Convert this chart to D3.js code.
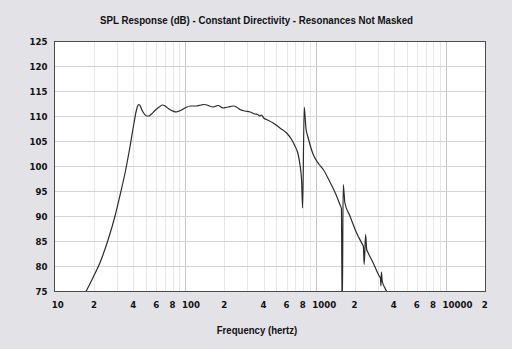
<!DOCTYPE html>
<html>
<head>
<meta charset="utf-8">
<script src="https://cdn.jsdelivr.net/npm/d3@7"></script>
<style>
  html, body { margin: 0; padding: 0; background: #e3e2e7; }
  svg { display: block; }
</style>
</head>
<body>
<svg id="chart" width="512" height="349"></svg>
<script>
// Frequency response samples (Hz, dB SPL)
const freqHz = [17.3, 19.6, 22.1, 25.6, 28.9, 31.6, 34.5, 37.6, 40.4, 42.2, 43.3, 44.1, 45.2, 46.3,
  48.5, 50.5, 52.5, 55, 58.5, 63, 67, 70, 74.1, 80, 84.8, 92, 99.5, 110, 122, 132, 139, 147,
  153, 164, 172, 179, 188, 196, 205, 214, 234, 250, 263, 287, 314, 343, 360, 374, 385, 400,
  421, 473, 533, 600, 655, 695, 736, 759, 782, 796, 819, 844, 879, 960, 1068, 1146, 1290,
  1451, 1538, 1580, 1603, 1632, 1681, 1837, 2068, 2260, 2330, 2364, 2424, 2470, 2538, 2773,
  3083, 3150, 3178, 3205, 3250, 3410, 3550];
const splDb = [75.0, 77.8, 80.7, 85.4, 90.1, 94.3, 98.7, 103.9, 108.7, 111.3, 112.2, 112.4, 112.1, 111.4,
  110.5, 110.1, 110.1, 110.5, 111.2, 111.9, 112.3, 112.1, 111.6, 111.1, 110.9, 111.2, 111.7, 112.1, 112.1, 112.3, 112.4, 112.3,
  112.1, 111.9, 112.1, 112.2, 111.9, 111.7, 111.8, 111.9, 112.1, 111.8, 111.4, 111.1, 110.9, 110.5, 110.4, 110.1, 110.3, 109.7,
  109.4, 108.7, 107.7, 106.7, 105.4, 104.1, 102.4, 100.4, 97.1, 91.7, 111.9, 107.7, 105.7, 102.4, 100.4, 99.4, 96.9,
  94.1, 92.4, 91.6, 70.0, 96.4, 92.7, 90.1, 86.7, 84.7, 84.0, 80.4, 86.4, 83.4, 82.7, 80.7,
  78.1, 77.7, 76.1, 78.9, 77.1, 75.7, 74.8];

// Axis ticks
const yTickValues = [75, 80, 85, 90, 95, 100, 105, 110, 115, 120, 125];
const xTickValues = [10, 20, 40, 60, 80, 100, 200, 400, 600, 800, 1000, 2000, 4000, 6000, 8000, 10000, 20000];
const xTickLabels = ["10", "2", "4", "6", "8", "100", "2", "4", "6", "8", "1000", "2", "4", "6", "8", "10000", "2"];

const titleText = "SPL Response (dB) - Constant Directivity - Resonances Not Masked";
const xAxisTitle = "Frequency (hertz)";

const svg = d3.select("#chart");
const plot = { left: 54.5, right: 485.5, top: 41.5, bottom: 291.5 };

const x = d3.scaleLog().domain([10, 20000]).range([55, 485]);
const y = d3.scaleLinear().domain([75, 125]).range([plot.bottom, plot.top]);

// plot background
svg.append("rect")
  .attr("x", plot.left).attr("y", plot.top)
  .attr("width", plot.right - plot.left).attr("height", plot.bottom - plot.top)
  .attr("fill", "#ffffff");

// vertical grid: every 1..9 multiple per decade
const gridFreqs = [];
for (let dec = 10; dec <= 10000; dec *= 10) {
  for (let m = 1; m <= 9; m++) {
    const f = dec * m;
    if (f > 10 && f <= 20000) gridFreqs.push(f);
  }
}
gridFreqs.push(20000);
const grid = svg.append("g").attr("shape-rendering", "crispEdges");
grid.selectAll("line.vx").data(gridFreqs).join("line")
  .attr("x1", d => Math.round(x(d)) + 0.5).attr("x2", d => Math.round(x(d)) + 0.5)
  .attr("y1", plot.top).attr("y2", plot.bottom)
  .attr("stroke", d => (Math.log10(d) % 1 === 0) ? "#c4c4c4" : "#e6e6e6")
  .attr("stroke-width", 1);

grid.selectAll("line.hy").data(yTickValues.filter(v => v > 75 && v < 125)).join("line")
  .attr("x1", plot.left).attr("x2", plot.right)
  .attr("y1", d => y(d)).attr("y2", d => y(d))
  .attr("stroke", "#d2d2d2").attr("stroke-width", 1);

// response curve, clipped to the plot frame
svg.append("clipPath").attr("id", "plotClip")
  .append("rect")
  .attr("x", plot.left).attr("y", plot.top)
  .attr("width", plot.right - plot.left).attr("height", plot.bottom - plot.top);

const pts = freqHz.map((f, i) => [f, splDb[i]]);
const line = d3.line()
  .x(d => x(d[0]))
  .y(d => y(d[1]))
  .curve(d3.curveMonotoneX);

svg.append("path")
  .attr("clip-path", "url(#plotClip)")
  .attr("d", line(pts))
  .attr("fill", "none")
  .attr("stroke", "#2b2b2b")
  .attr("stroke-width", 1.2)
  .attr("stroke-linejoin", "round");

// frame
svg.append("rect")
  .attr("x", plot.left).attr("y", plot.top)
  .attr("width", plot.right - plot.left).attr("height", plot.bottom - plot.top)
  .attr("fill", "none").attr("stroke", "#4a4a4a").attr("stroke-width", 1)
  .attr("shape-rendering", "crispEdges");

// y tick labels
const tickFont = "'DejaVu Sans', Verdana, sans-serif";
svg.append("g").selectAll("text").data(yTickValues).join("text")
  .attr("x", 47.5).attr("y", d => y(d) + 3.3)
  .attr("text-anchor", "end")
  .attr("font-family", tickFont).attr("font-weight", "bold").attr("font-size", "8.6px")
  .attr("fill", "#111")
  .text(d => d);

// x tick labels: first digit sits on the tick
svg.append("g").selectAll("text").data(xTickValues).join("text")
  .attr("x", d => x(d) - 3.2).attr("y", 307.5)
  .attr("text-anchor", "start")
  .attr("font-family", tickFont).attr("font-weight", "bold").attr("font-size", "8.6px")
  .attr("fill", "#111")
  .text((d, i) => xTickLabels[i]);

// titles
svg.append("text")
  .attr("x", 256.5).attr("y", 24)
  .attr("text-anchor", "middle")
  .attr("font-family", "'Liberation Sans', Arial, sans-serif").attr("font-weight", "bold").attr("font-size", "11px")
  .attr("textLength", 313).attr("lengthAdjust", "spacingAndGlyphs")
  .attr("fill", "#111")
  .text(titleText);

svg.append("text")
  .attr("x", 257).attr("y", 334)
  .attr("text-anchor", "middle")
  .attr("font-family", "'Liberation Sans', Arial, sans-serif").attr("font-weight", "bold").attr("font-size", "10.6px")
  .attr("textLength", 80.5).attr("lengthAdjust", "spacingAndGlyphs")
  .attr("fill", "#111")
  .text(xAxisTitle);
</script>
</body>
</html>
